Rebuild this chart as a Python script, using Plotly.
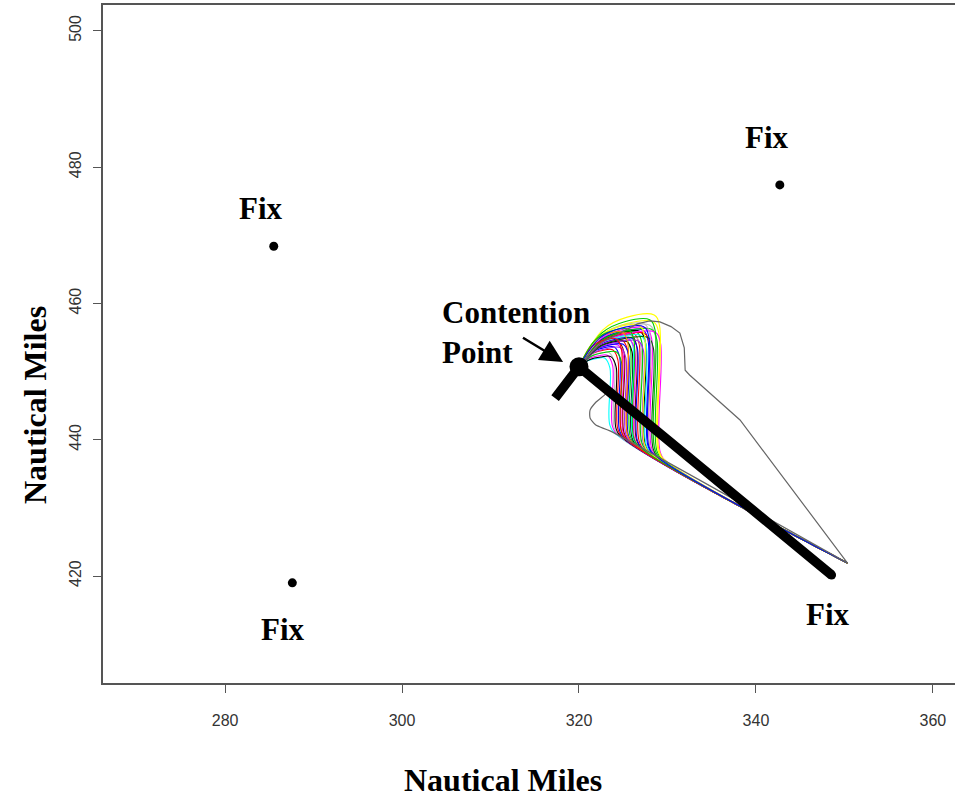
import plotly.graph_objects as go

# ---------------- data ----------------
x_ticks = [280, 300, 320, 340, 360]
y_ticks = [420, 440, 460, 480, 500]
x_range = [266.2, 362.5]
y_range = [404.3, 503.8]

fix_x = [285.5, 342.7, 287.6, 348.55]
fix_y = [468.4, 477.4, 419.0, 420.15]
fix_label_x = [284.1, 341.2, 286.5, 348.1]
fix_label_y = [474.0, 484.3, 412.2, 414.4]
fix_labels = ["Fix", "Fix", "Fix", "Fix"]

contention_x = [320.0]
contention_y = [450.7]

route_x = [317.3, 320.0, 348.55]
route_y = [446.1, 450.7, 420.15]

outer_upper_x = [320.0, 321.2, 322.6, 324.6, 326.6, 328.0, 329.15, 330.4, 331.4, 331.9, 332.0, 332.5, 338.2, 350.35]
outer_upper_y = [450.7, 452.6, 454.3, 455.65, 457.0, 457.45, 457.3, 456.6, 455.65, 453.5, 450.2, 449.5, 442.9, 421.9]

outer_lower_x = [320.0, 322.15, 323.05, 321.9, 321.25, 321.25, 321.9, 323.5, 350.35]
outer_lower_y = [450.7, 448.3, 446.85, 445.5, 444.35, 443.2, 442.15, 441.3, 421.9]

# colored trajectories: vertical-descent x, peak y, join y on the diagonal
loop_side_x = [323.5, 323.8, 324.0, 324.2, 324.4, 324.6, 324.8, 325.0, 325.1, 325.3,
               325.5, 325.6, 325.8, 326.0, 326.1, 326.3, 326.5, 326.6, 326.8, 327.0,
               327.1, 327.3, 327.5, 327.6, 327.8, 328.0, 328.2, 328.4, 328.6, 328.8,
               329.0, 329.2, 329.1, 328.6, 328.0, 327.4, 325.5, 324.8, 326.2, 327.9]
loop_top_y = [452.0, 452.4, 452.8, 452.2, 453.2, 453.6, 452.9, 453.9, 454.3, 453.5,
              454.6, 454.0, 454.9, 454.4, 455.2, 454.7, 455.4, 454.9, 455.6, 455.1,
              455.8, 454.5, 455.9, 455.3, 456.1, 455.6, 456.4, 455.0, 456.8, 456.2,
              457.3, 455.8, 458.3, 457.6, 457.0, 456.8, 455.8, 454.8, 456.2, 456.6]
loop_bottom_y = [440.9, 440.7, 440.5, 440.4, 440.3, 440.1, 440.0, 439.8, 439.8, 439.6,
                 439.5, 439.4, 439.3, 439.1, 439.1, 438.9, 438.8, 438.7, 438.6, 438.4,
                 438.4, 438.2, 438.1, 438.0, 437.9, 437.7, 437.6, 437.4, 437.3, 437.2,
                 437.0, 436.9, 437.0, 437.3, 437.7, 438.1, 439.5, 440.0, 439.0, 437.8]
loop_colors = ["#00FFFF", "#FF00FF", "#BEBEBE", "#000000", "#FF0000", "#0000FF", "#00CD00", "#FF00FF", "#8B0000", "#A020F0",
               "#FF0000", "#0000FF", "#00CD00", "#000000", "#00FFFF", "#FF00FF", "#8B0000", "#0000FF", "#FF0000", "#BEBEBE",
               "#00CD00", "#A020F0", "#000000", "#00FFFF", "#0000FF", "#FF0000", "#FF00FF", "#006400", "#BEBEBE", "#00CD00",
               "#FFFF00", "#FF00FF", "#FFFF00", "#00CD00", "#BEBEBE", "#FFFF00", "#FF8C00", "#FF0000", "#00CD00", "#0000FF"]
end_x = 350.35
end_y = 421.9

arrow_tip = (318.2, 451.4)
arrow_tail = (313.5, 455.1)

# ---------------- figure ----------------
fig = go.Figure()

x0, y0 = contention_x[0], contention_y[0]
for sx, ty, by, col in zip(loop_side_x, loop_top_y, loop_bottom_y, loop_colors):
    w, h = sx - x0, ty - y0
    xs = [x0, x0 + 0.3 * w, x0 + 0.6 * w, sx - 0.6, sx, sx, sx + 0.9, end_x]
    ys = [y0, y0 + 0.72 * h, y0 + 0.96 * h, ty, ty - 1.5, by + 1.2, by - 0.3, end_y]
    fig.add_trace(go.Scatter(x=xs, y=ys, mode="lines",
                             line=dict(color=col, width=1.1, shape="spline", smoothing=1.0),
                             hoverinfo="skip", showlegend=False))

fig.add_trace(go.Scatter(x=outer_upper_x, y=outer_upper_y, mode="lines",
                         line=dict(color="#666666", width=1.2), hoverinfo="skip", showlegend=False))
fig.add_trace(go.Scatter(x=outer_lower_x, y=outer_lower_y, mode="lines",
                         line=dict(color="#666666", width=1.2, shape="spline", smoothing=0.6),
                         hoverinfo="skip", showlegend=False))

fig.add_trace(go.Scatter(x=route_x, y=route_y, mode="lines",
                         line=dict(color="black", width=9.5), hoverinfo="skip", showlegend=False))
fig.add_trace(go.Scatter(x=contention_x, y=contention_y, mode="markers",
                         marker=dict(color="black", size=19), hoverinfo="skip", showlegend=False))
fig.add_trace(go.Scatter(x=fix_x, y=fix_y, mode="markers",
                         marker=dict(color="black", size=9), hoverinfo="skip", showlegend=False))

serif = "Liberation Serif, Times New Roman, serif"
ann = []
for lx, ly, t in zip(fix_label_x, fix_label_y, fix_labels):
    ann.append(dict(x=lx, y=ly, xref="x", yref="y", text="<b>%s</b>" % t, showarrow=False,
                    xanchor="center", yanchor="middle",
                    font=dict(family=serif, size=31, color="black")))
ann.append(dict(x=304.3, y=455.8, xref="x", yref="y", text="<b>Contention<br>Point</b>",
                showarrow=False, xanchor="left", yanchor="middle", align="left",
                font=dict(family=serif, size=31, color="black")))
ann.append(dict(x=arrow_tip[0], y=arrow_tip[1], ax=arrow_tail[0], ay=arrow_tail[1],
                xref="x", yref="y", axref="x", ayref="y", text="", showarrow=True,
                arrowhead=2, arrowsize=1.8, arrowwidth=2.5, arrowcolor="black", standoff=0))
ann.append(dict(x=0.4695, y=-0.1431, xref="paper", yref="paper", text="<b>Nautical Miles</b>",
                showarrow=False, xanchor="center", yanchor="middle",
                font=dict(family=serif, size=32, color="black")))
ann.append(dict(x=-0.0798, y=0.41, xref="paper", yref="paper", text="<b>Nautical Miles</b>",
                showarrow=False, textangle=-90, xanchor="center", yanchor="middle",
                font=dict(family=serif, size=32, color="black")))

fig.update_layout(
    width=955, height=805,
    margin=dict(l=103, r=0, t=5, b=122),
    paper_bgcolor="white", plot_bgcolor="white",
    showlegend=False,
    annotations=ann,
    xaxis=dict(range=x_range, tickvals=x_ticks, ticktext=[str(v) for v in x_ticks],
               showgrid=False, zeroline=False, showline=True, linecolor="#555", linewidth=1.5,
               mirror=True, ticks="outside", ticklen=8, tickcolor="#555", tickwidth=1,
               ticklabelstandoff=14, automargin=False,
               tickfont=dict(family="Liberation Sans, Arial, sans-serif", size=16, color="#333")),
    yaxis=dict(range=y_range, tickvals=y_ticks, ticktext=[str(v) for v in y_ticks],
               showgrid=False, zeroline=False, showline=True, linecolor="#555", linewidth=1.5,
               ticks="outside", ticklen=8, tickcolor="#555", tickwidth=1, tickangle=-90,
               ticklabelstandoff=6, automargin=False,
               tickfont=dict(family="Liberation Sans, Arial, sans-serif", size=16, color="#333")),
)

fig.write_html("out.html")
